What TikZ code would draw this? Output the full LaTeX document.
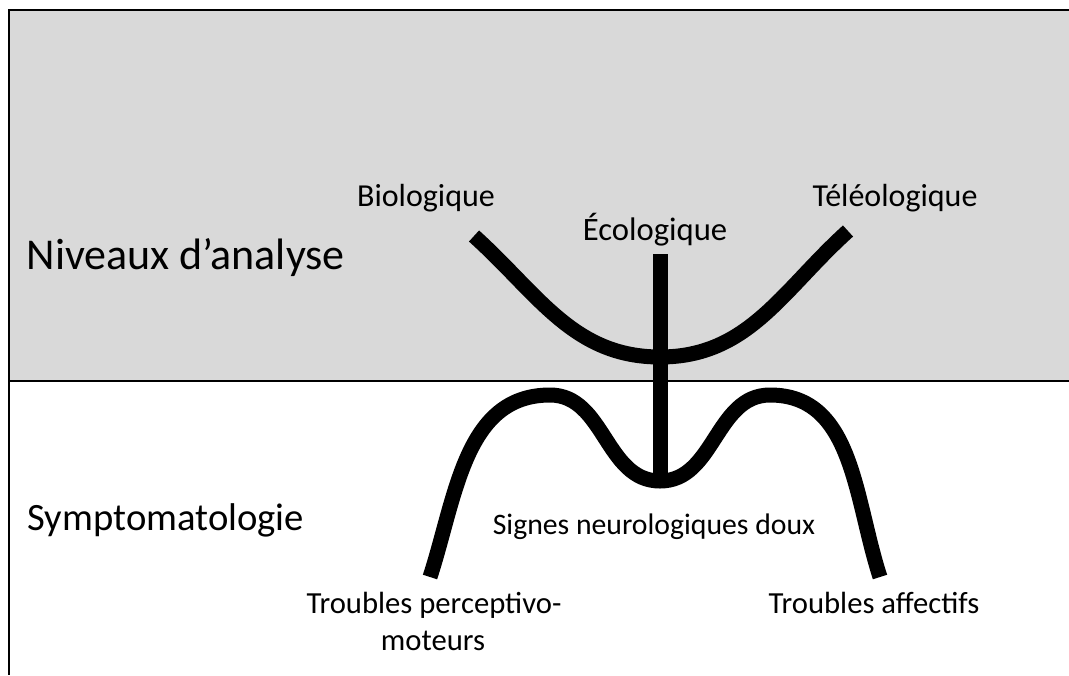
\documentclass[tikz,border=0pt]{standalone}
\usepackage{fontspec}
\usepackage{xcolor}
\setmainfont{Carlito}
\definecolor{panel}{HTML}{D9D9D9}
\tikzset{
  level/.style={font=\fontsize{33}{38}\selectfont, anchor=base west},
  tag/.style={font=\fontsize{23}{28}\selectfont, anchor=base, align=center},
  stroke/.style={line width=11.25pt, line cap=butt}
}
\begin{document}
\begin{tikzpicture}[x=0.75pt,y=0.75pt]
\useasboundingbox (0,0) rectangle (1069,-675);
\fill[panel] (9,-10) rectangle (1069,-381);
\draw[line width=2.2pt] (1069,-10) -- (9,-10) -- (9,-675);
\draw[line width=1.5pt] (9,-381) -- (1069,-381);

\node[level] (niveaux) at (22,-269) {Niveaux d’analyse};
\node[level, font=\fontsize{29}{34}\selectfont] (sympto) at (23,-530) {Symptomatologie};

\node[tag, font=\fontsize{24}{28}\selectfont] (bio) at (426,-206) {Biologique};
\node[tag, font=\fontsize{24.5}{28}\selectfont] (eco) at (655,-240) {Écologique};
\node[tag, font=\fontsize{24}{28}\selectfont] (teleo) at (895,-206) {Téléologique};
\node[tag, font=\fontsize{22.3}{28}\selectfont] (signes) at (654,-534) {Signes neurologiques doux};
\node[tag] (percep) at (434,-613) {Troubles perceptivo-};
\node[tag] (moteurs) at (433,-650) {moteurs};
\node[tag] (affect) at (874,-613) {Troubles affectifs};

\coordinate (uleft) at (474,-236);
\coordinate (ubottom) at (660,-357);
\coordinate (uright) at (848,-231);
\draw[stroke] (uleft) to[out=-42,in=180] (ubottom) to[out=0,in=-138] (uright);

\coordinate (stemtop) at (660,-254);
\coordinate (valley) at (660,-481);
\draw[stroke] (stemtop) -- (valley);

\coordinate (mleft) at (430,-577);
\coordinate (peakleft) at (550,-395);
\coordinate (peakright) at (770,-395);
\coordinate (mright) at (880,-577);
\draw[stroke] (mleft) to[out=72,in=180] (peakleft) to[out=0,in=180] (valley)
  to[out=0,in=180] (peakright) to[out=0,in=108] (mright);
\end{tikzpicture}
\end{document}
